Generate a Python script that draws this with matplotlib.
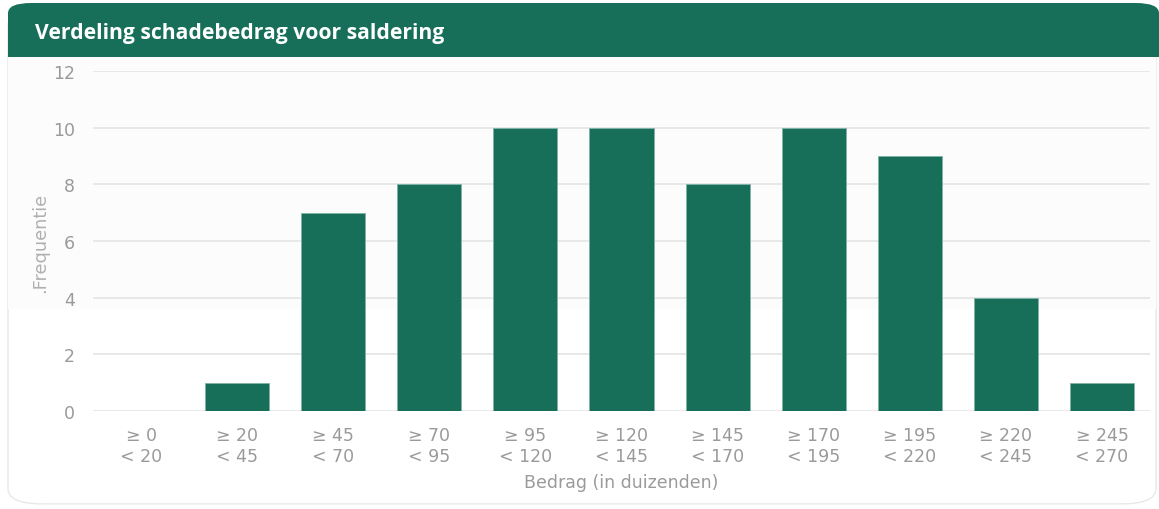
import matplotlib
matplotlib.use('Agg')
import matplotlib.pyplot as plt
from matplotlib.patches import FancyBboxPatch, Rectangle

# data
lower = [0, 20, 45, 70, 95, 120, 145, 170, 195, 220, 245]
upper = [20, 45, 70, 95, 120, 145, 170, 195, 220, 245, 270]
freq = [0, 1, 7, 8, 10, 10, 8, 10, 9, 4, 1]
yticks = [0, 2, 4, 6, 8, 10, 12]

green = '#176f5a'
grey = '#9a9a9a'

plt.rcParams['font.family'] = ['DejaVu Sans']

fig = plt.figure(figsize=(11.59, 5.10), dpi=100)
fig.patch.set_facecolor('white')

# card background + header banner (kept behind the axes)
card = FancyBboxPatch((8/1159, 0.01), 1148/1159, 0.97, boxstyle='round,pad=0,rounding_size=0.03',
                      transform=fig.transFigure, facecolor='white', edgecolor='#e8e8e8', lw=1.0, zorder=-10)
fig.patches.append(card)
fig.patches.append(Rectangle((8/1159, 1 - 310/510), 1148/1159, (310 - 58)/510,
                             transform=fig.transFigure, facecolor='#fcfcfc', edgecolor='none', zorder=-9))
banner = FancyBboxPatch((8/1159, 1 - 58/510), 1151/1159, 54/510, boxstyle='round,pad=0,rounding_size=0.02',
                        transform=fig.transFigure, facecolor=green, edgecolor='none', zorder=-8)
fig.patches.append(banner)
fig.patches.append(Rectangle((8/1159, 1 - 58/510), 1151/1159, 20/510,
                             transform=fig.transFigure, facecolor=green, edgecolor='none', zorder=-8))
fig.text(35/1159, 1 - 33/510, 'Verdeling schadebedrag voor saldering', color='white',
         fontsize=15.2, fontweight='bold', family=['Open Sans', 'DejaVu Sans'], va='center', ha='left')

ax = fig.add_axes([93/1159, 1 - 412/510, (1150 - 93)/1159, (412 - 72)/510])
ax.patch.set_alpha(0)

labels = ['\u2265 %d\n< %d' % (lo, hi) for lo, hi in zip(lower, upper)]
x = list(range(len(freq)))
ax.bar(x, freq, width=0.667, color=green, edgecolor='#7fb3a5', linewidth=0.6, zorder=3)

ax.set_xlim(-0.5, len(freq) - 0.5)
ax.set_ylim(0, 12)
ax.set_yticks(yticks)
ax.set_xticks(x)
ax.set_xticklabels(labels, fontsize=12.5, color=grey, linespacing=1.2)
ax.tick_params(axis='y', labelsize=12.5, labelcolor=grey, length=0, pad=13)
ax.tick_params(axis='x', length=0, pad=11)
ax.grid(axis='y', color='#e4e4e4', linewidth=1.2, zorder=0)
ax.set_axisbelow(True)
for s in ax.spines.values():
    s.set_visible(False)

ax.set_xlabel('Bedrag (in duizenden)', fontsize=12.5, color=grey, labelpad=6)
fig.text(40/1159, 1 - 243/510, '.Frequentie', rotation=90, fontsize=12.8, color='#b0b0b0',
         ha='center', va='center')

fig.savefig('out.png', dpi=100)
